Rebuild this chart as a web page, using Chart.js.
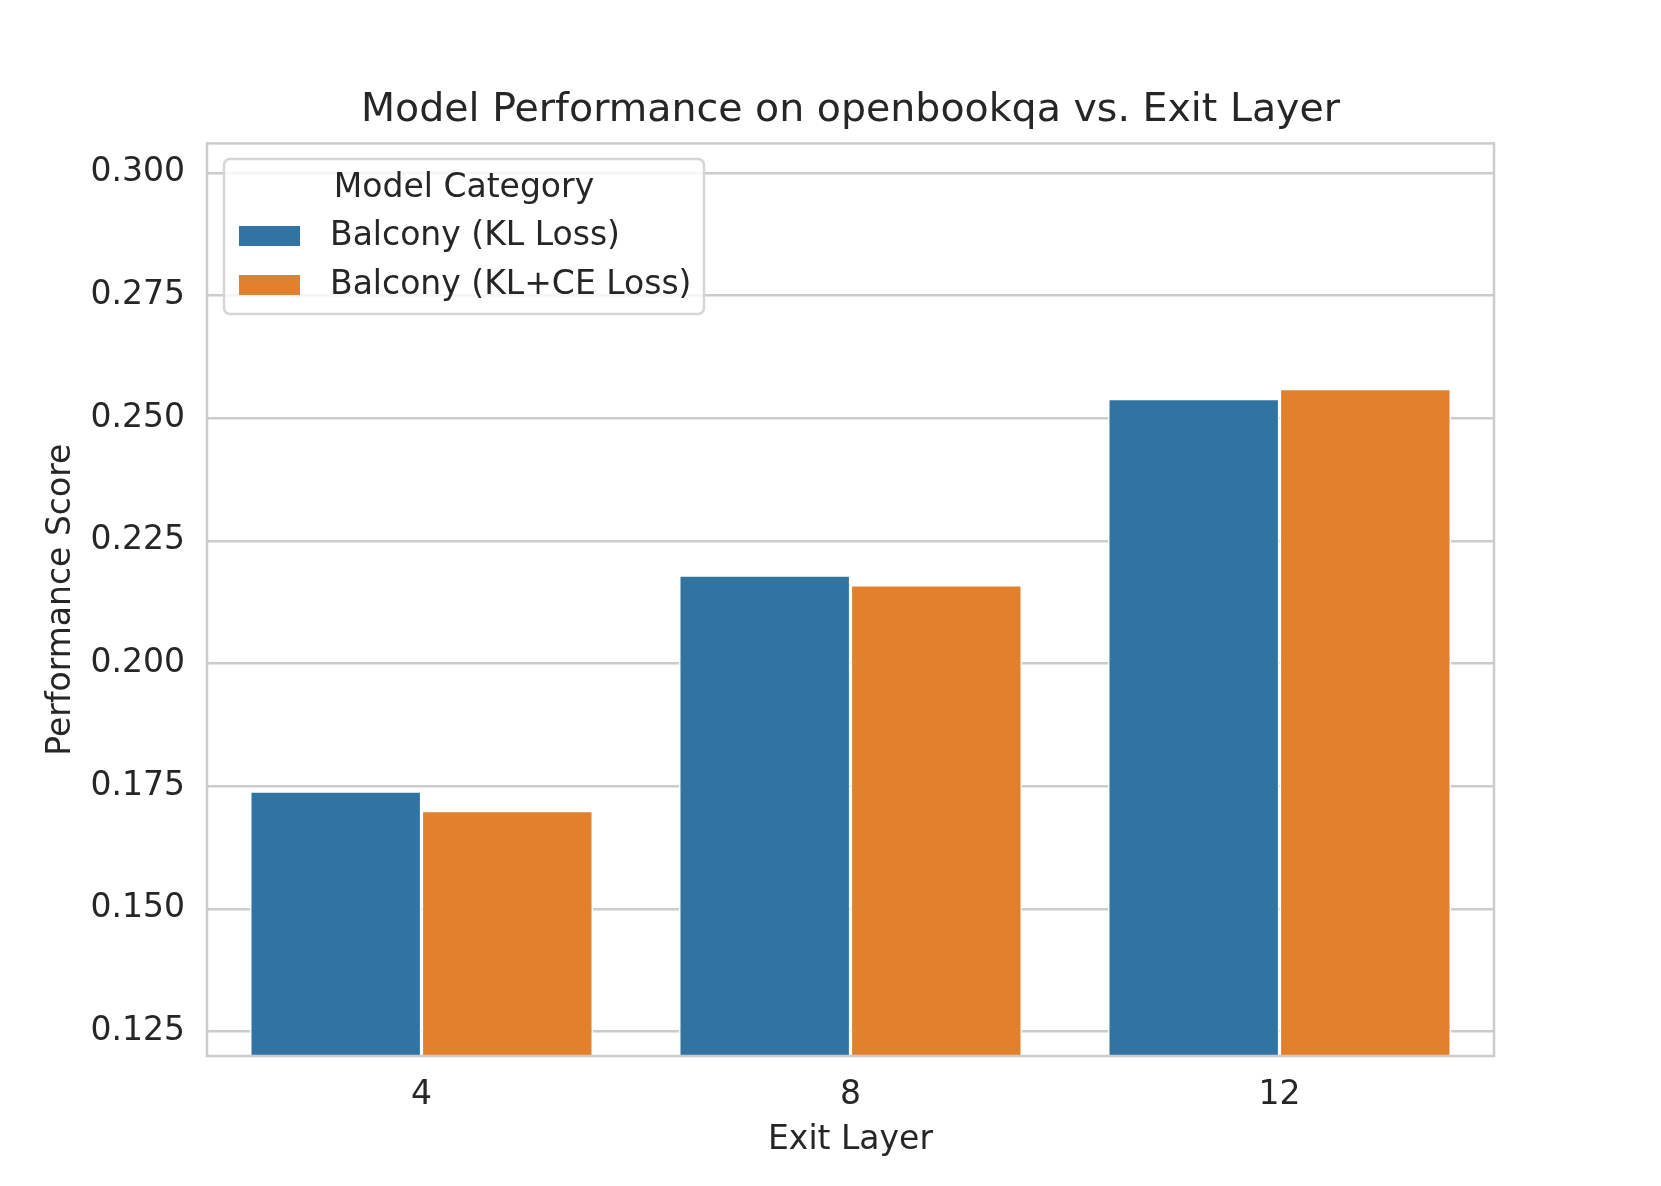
<!DOCTYPE html>
<html>
<head>
<meta charset="utf-8">
<script src="https://cdn.jsdelivr.net/npm/chart.js@4.4.1/dist/chart.umd.min.js"></script>
<style>
  html, body { margin: 0; padding: 0; background: #ffffff; }
  #wrap { width: 1661px; height: 1186px; position: relative; }
</style>
</head>
<body>
<div id="wrap"><canvas id="c" width="1661" height="1186"></canvas></div>
<script>
const categories = ["4", "8", "12"];
const seriesNames = ["Balcony (KL Loss)", "Balcony (KL+CE Loss)"];
const klLoss = [0.174, 0.218, 0.254];
const klCeLoss = [0.170, 0.216, 0.256];
const yTicks = [0.125, 0.150, 0.175, 0.200, 0.225, 0.250, 0.275, 0.300];
const colors = ["#3274a1", "#e1812c"];

const FONT = "'DejaVu Sans', sans-serif";
const TEXT = "#262626";

const frame = {
  id: 'frame',
  afterDatasetsDraw(chart) {
    const {ctx, chartArea: a} = chart;
    ctx.save();
    ctx.strokeStyle = '#cccccc';
    ctx.lineWidth = 2.5;
    ctx.strokeRect(a.left, a.top, a.right - a.left, a.bottom - a.top);
    ctx.restore();
  }
};

const legendBox = {
  id: 'legendBox',
  afterDraw(chart) {
    const {ctx} = chart;
    const x = 224, y = 159, w = 480, h = 155, r = 6;
    ctx.save();
    ctx.globalAlpha = 0.8;
    ctx.fillStyle = '#ffffff';
    ctx.beginPath();
    ctx.roundRect(x, y, w, h, r);
    ctx.fill();
    ctx.globalAlpha = 1;
    ctx.strokeStyle = '#d6d6d6';
    ctx.lineWidth = 2.5;
    ctx.stroke();
    ctx.fillStyle = TEXT;
    ctx.textBaseline = 'middle';
    ctx.font = "33px " + FONT;
    ctx.textAlign = 'center';
    ctx.fillText("Model Category", 464, 188);
    ctx.textAlign = 'left';
    chart.data.datasets.forEach((ds, i) => {
      const cy = 236 + i * 49;
      ctx.fillStyle = ds.backgroundColor;
      ctx.fillRect(239, cy - 10, 61, 20);
      ctx.fillStyle = TEXT;
      ctx.fillText(ds.label, 330, cy);
    });
    ctx.restore();
  }
};

new Chart(document.getElementById('c'), {
  type: 'bar',
  data: {
    labels: categories,
    datasets: [
      { label: seriesNames[0], data: klLoss, backgroundColor: colors[0], borderColor: '#ffffff', borderWidth: 1.6, borderSkipped: false },
      { label: seriesNames[1], data: klCeLoss, backgroundColor: colors[1], borderColor: '#ffffff', borderWidth: 1.6, borderSkipped: false }
    ]
  },
  options: {
    responsive: false,
    animation: false,
    devicePixelRatio: 1,
    layout: { padding: { left: 0, right: 167, top: 0, bottom: 0 } },
    datasets: { bar: { categoryPercentage: 0.8, barPercentage: 1.0 } },
    plugins: {
      legend: { display: false },
      tooltip: { enabled: false },
      title: {
        display: true,
        fullSize: false,
        text: "Model Performance on openbookqa vs. Exit Layer",
        color: TEXT,
        font: { family: FONT, size: 39.5, weight: 'normal' },
        padding: { top: 87, bottom: 9 }
      }
    },
    scales: {
      x: {
        grid: { display: false, drawTicks: false },
        border: { display: false },
        ticks: { color: TEXT, font: { family: FONT, size: 33 }, padding: 20 },
        title: { display: true, text: "Exit Layer", color: TEXT, font: { family: FONT, size: 33 }, padding: { top: 0, bottom: 26 } },
        afterFit: s => { s.height = 130; }
      },
      y: {
        min: 0.12,
        max: 0.306,
        grid: { color: '#cccccc', lineWidth: 2.5, drawTicks: false },
        border: { display: false },
        afterBuildTicks: s => { s.ticks = yTicks.map(v => ({ value: v })); },
        ticks: { color: TEXT, font: { family: FONT, size: 33 }, padding: 22, callback: v => Number(v).toFixed(3) },
        title: { display: true, text: "Performance Score", color: TEXT, font: { family: FONT, size: 33 }, padding: { top: 42, bottom: 0 } },
        afterFit: s => { s.width = 207; }
      }
    }
  },
  plugins: [frame, legendBox]
});
</script>
</body>
</html>
